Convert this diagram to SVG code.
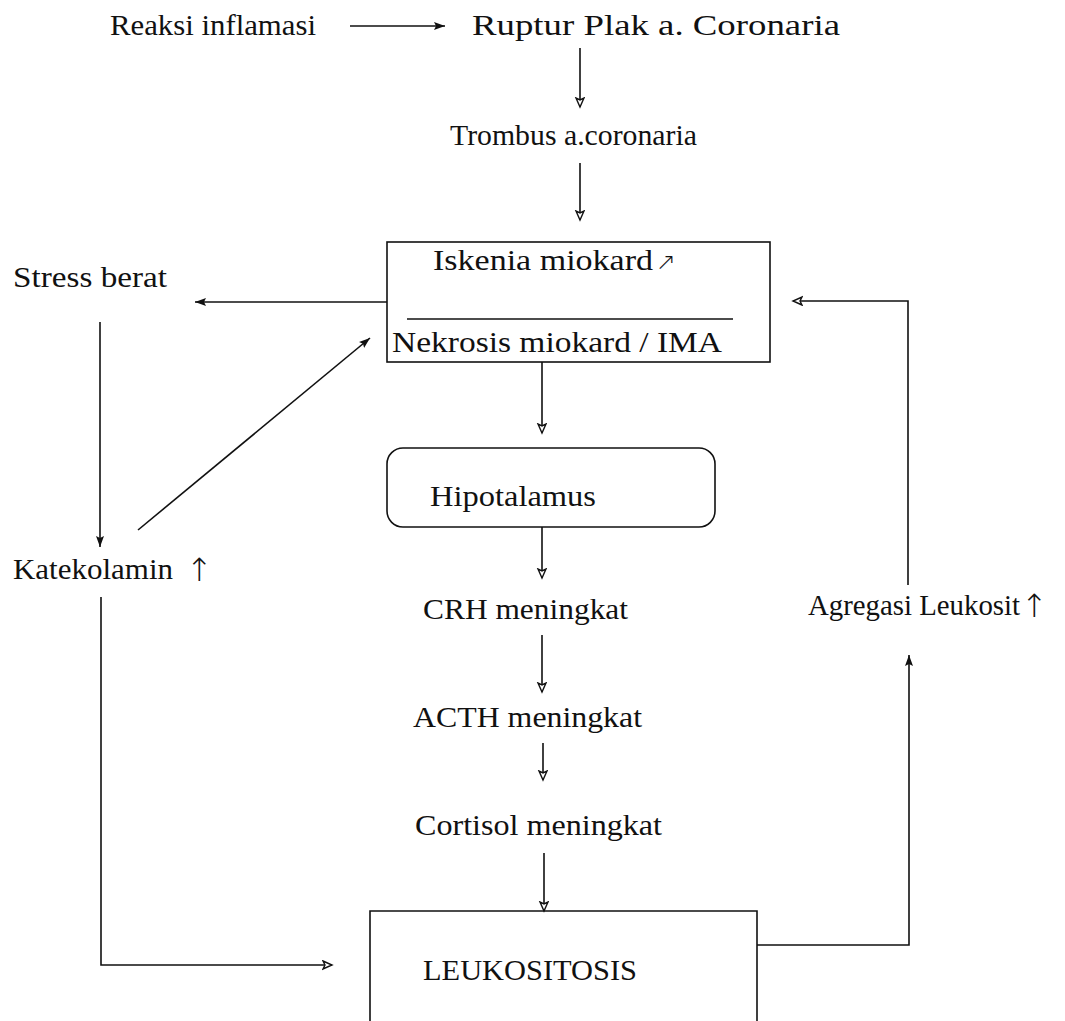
<svg xmlns="http://www.w3.org/2000/svg" width="1065" height="1021" viewBox="0 0 1065 1021">
<style>
.t{font-family:"Liberation Serif","Times New Roman",serif;font-size:29px;fill:#111;}
.ar{font-family:"DejaVu Sans",sans-serif;font-size:32px;font-weight:200;fill:#111;}
.ln{fill:none;stroke:#111;stroke-width:1.6;}
.box{fill:none;stroke:#111;stroke-width:1.6;}
</style>
<defs>
<marker id="af" markerUnits="userSpaceOnUse" markerWidth="12" markerHeight="10" refX="11" refY="5" orient="auto">
<path d="M0,1 L11,5 L0,9 L2,5 z" fill="#111"/>
</marker>
<marker id="ah" markerUnits="userSpaceOnUse" markerWidth="12" markerHeight="12" refX="10" refY="5" orient="auto">
<path d="M1,1 L10,5 L1,9 L3,5 z" fill="#fff" stroke="#111" stroke-width="1.4"/>
</marker>
</defs>
<rect width="1065" height="1021" fill="#fff"/>
<g id="connectors">
<line class="ln" x1="350" y1="26" x2="445" y2="26" marker-end="url(#af)"/>
<line class="ln" x1="580" y1="48" x2="580" y2="107" marker-end="url(#ah)"/>
<line class="ln" x1="580" y1="163" x2="580" y2="220" marker-end="url(#ah)"/>
<line class="ln" x1="387" y1="302" x2="195" y2="302" marker-end="url(#af)"/>
<line class="ln" x1="100" y1="322" x2="100" y2="547" marker-end="url(#af)"/>
<line class="ln" x1="138" y1="530" x2="370" y2="338" marker-end="url(#af)"/>
<line class="ln" x1="542" y1="362" x2="542" y2="433" marker-end="url(#ah)"/>
<line class="ln" x1="542" y1="527" x2="542" y2="578" marker-end="url(#ah)"/>
<line class="ln" x1="542" y1="635" x2="542" y2="692" marker-end="url(#ah)"/>
<line class="ln" x1="543" y1="743" x2="543" y2="780" marker-end="url(#ah)"/>
<line class="ln" x1="544" y1="853" x2="544" y2="911" marker-end="url(#ah)"/>
<polyline class="ln" points="101,597 101,965 332,965" marker-end="url(#ah)"/>
<polyline class="ln" points="757,945 909,945 909,655" marker-end="url(#af)"/>
<polyline class="ln" points="908,585 908,301 793,301" marker-end="url(#ah)"/>
</g>
<g id="n-reaksi"><text class="t" x="110" y="35" textLength="206" lengthAdjust="spacingAndGlyphs">Reaksi inflamasi</text></g>
<g id="n-ruptur"><text class="t" x="472" y="35" textLength="368" lengthAdjust="spacingAndGlyphs">Ruptur  Plak  a. Coronaria</text></g>
<g id="n-trombus"><text class="t" x="450" y="145" textLength="247" lengthAdjust="spacingAndGlyphs">Trombus a.coronaria</text></g>
<g id="n-iskemia">
<rect class="box" x="387" y="242" width="383" height="120"/>
<text class="t" x="433" y="270" textLength="220" lengthAdjust="spacingAndGlyphs">Iskenia  miokard</text>
<text x="656" y="270" font-family="DejaVu Sans" font-size="24" font-weight="200" fill="#111">↗</text>
<line class="ln" x1="407" y1="319" x2="733" y2="319"/>
<text class="t" x="392" y="352" textLength="330" lengthAdjust="spacingAndGlyphs">Nekrosis  miokard / IMA</text>
</g>
<g id="n-stress"><text class="t" x="13" y="287" textLength="154" lengthAdjust="spacingAndGlyphs">Stress  berat</text></g>
<g id="n-katekolamin"><text class="t" x="13" y="579" textLength="160" lengthAdjust="spacingAndGlyphs">Katekolamin</text><text class="ar" x="186" y="581">↑</text></g>
<g id="n-hipotalamus">
<rect class="box" x="387" y="448" width="328" height="79" rx="16"/>
<text class="t" x="430" y="506" textLength="166" lengthAdjust="spacingAndGlyphs">Hipotalamus</text>
</g>
<g id="n-crh"><text class="t" x="423" y="619" textLength="205" lengthAdjust="spacingAndGlyphs">CRH  meningkat</text></g>
<g id="n-acth"><text class="t" x="413" y="727" textLength="229" lengthAdjust="spacingAndGlyphs">ACTH  meningkat</text></g>
<g id="n-cortisol"><text class="t" x="415" y="835" textLength="247" lengthAdjust="spacingAndGlyphs">Cortisol  meningkat</text></g>
<g id="n-agregasi"><text class="t" x="808" y="615" textLength="212" lengthAdjust="spacingAndGlyphs">Agregasi Leukosit</text><text class="ar" x="1021" y="617">↑</text></g>
<g id="n-leukositosis">
<polyline class="box" points="370,1021 370,911 757,911 757,1021"/>
<text class="t" x="423" y="980" textLength="214" lengthAdjust="spacingAndGlyphs">LEUKOSITOSIS</text>
</g>
</svg>
